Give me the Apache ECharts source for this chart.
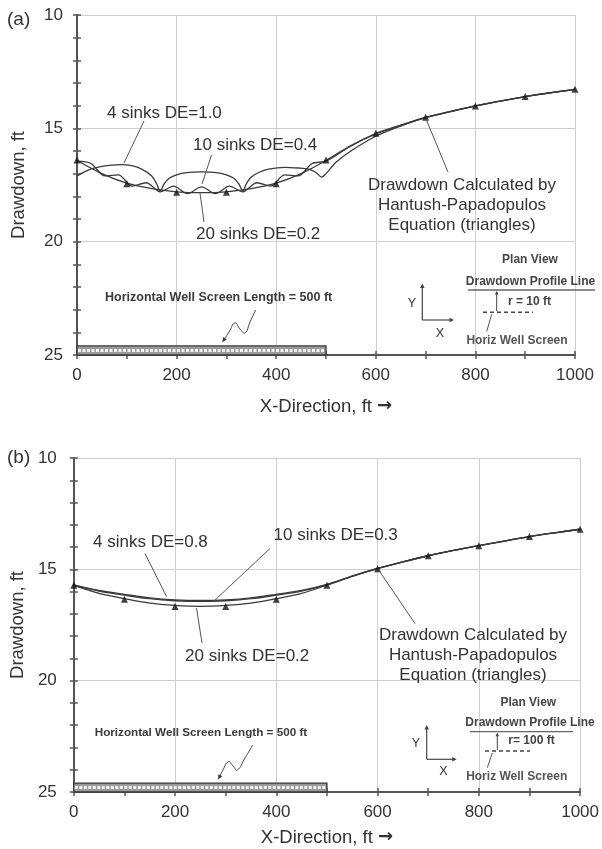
<!DOCTYPE html>
<html><head><meta charset="utf-8">
<script src="https://cdn.jsdelivr.net/npm/echarts@6/dist/echarts.min.js"></script>
<style>html,body{margin:0;padding:0;background:#fff}#c{width:602px;height:849px}</style>
</head><body><div id="c"></div>
<script>
// ---------- data ----------
const hX = [0,100,200,300,400,500,600,700,800,900,1000];
const hantushA = [16.4,17.44,17.82,17.82,17.44,16.4,15.22,14.51,14.01,13.6,13.28];
const hantushB = [15.71,16.34,16.67,16.67,16.34,15.71,14.97,14.39,13.94,13.53,13.2];

const sink4AX = [0,15,30,50,70,90,110,130,150,160,167,175,185,200,220,250,280,300,315,325,333,340,350,365,385,417,445,465,480,491,500,520,550,600,650,700,800,900,1000];
const sink4AY = [17.1,16.92,16.78,16.68,16.62,16.6,16.65,16.8,17.1,17.45,17.76,17.45,17.2,17.05,16.95,16.92,16.95,17.05,17.2,17.45,17.76,17.45,17.15,16.95,16.8,16.72,16.75,16.8,16.95,17.15,17.0,16.5,16.0,15.35,14.9,14.53,14.02,13.6,13.28];

const sink10AX = [0,28,56,83,111,139,167,194,222,250,278,306,333,361,389,417,444,472,500,550,600,650,700,800,900,1000];
const sink10AY = [16.45,16.55,17.1,17.05,17.55,17.4,17.8,17.55,17.88,17.58,17.88,17.55,17.8,17.4,17.55,17.05,17.1,16.55,16.45,15.78,15.25,14.87,14.52,14.01,13.6,13.28];

const sink20AX = [0,50,100,150,200,250,300,350,400,450,500,550,600,650,700,750,800,850,900,950,1000];
const sink20AY = [16.42,17.0,17.42,17.66,17.8,17.84,17.8,17.66,17.42,17.0,16.42,15.76,15.23,14.86,14.52,14.26,14.01,13.8,13.6,13.43,13.28];

const sinkBX = [0,50,100,150,200,250,300,350,400,450,500,550,600,650,700,750,800,850,900,950,1000];
const sink4BY = [15.7,15.95,16.12,16.28,16.37,16.4,16.37,16.28,16.12,15.95,15.68,15.3,14.96,14.66,14.39,14.15,13.94,13.73,13.53,13.36,13.2];
const sink10BY = [15.71,15.98,16.16,16.32,16.41,16.44,16.41,16.32,16.16,15.98,15.69,15.31,14.96,14.66,14.39,14.15,13.94,13.73,13.53,13.36,13.2];
const sink20BY = [15.72,16.08,16.32,16.52,16.62,16.66,16.62,16.52,16.32,16.08,15.71,15.32,14.97,14.67,14.39,14.15,13.94,13.73,13.53,13.36,13.2];

const screenSpan = [0,500];      // horizontal well screen, ft
const screenTop = 24.6;

const yTickLabels = [10,15,20,25];
const xTickLabels = [0,200,400,600,800,1000];

// ---------- chart ----------
const FONT = "'Liberation Sans', Arial, sans-serif";
const TXT = '#333';
const zip = (xs, ys) => xs.map((x,i)=>[x, ys[i]]);
const AX = '#555';

function xAxisCfg(gi, gap){
  return {
    type:'value', gridIndex:gi, min:xTickLabels[0], max:xTickLabels[xTickLabels.length-1], interval:200,
    name:'{a|X-Direction, ft }{b|\u2192}', nameLocation:'middle', nameGap:gap,
    nameTextStyle:{rich:{a:{fontFamily:FONT, fontSize:18.5, color:TXT}, b:{fontFamily:"'DejaVu Sans', sans-serif", fontSize:18, fontWeight:'bold', color:TXT}}},
    axisLine:{onZero:false, lineStyle:{color:AX, width:2}},
    axisTick:{show:true, length:4, lineStyle:{color:AX, width:1.5}},
    minorTick:{show:true, splitNumber:2, length:4, lineStyle:{color:AX, width:1.5}},
    axisLabel:{fontFamily:FONT, fontSize:17, color:TXT, margin:12, formatter:v=>String(v)},
    splitLine:{show:true, lineStyle:{color:'#cfcfcf', width:1}}
  };
}
function xAxisInner(gi){
  return {type:'value', gridIndex:gi, min:xTickLabels[0], max:xTickLabels[xTickLabels.length-1], interval:200, position:'bottom',
    axisLine:{show:false}, axisLabel:{show:false}, splitLine:{show:false},
    axisTick:{show:true, inside:true, length:4, lineStyle:{color:AX, width:1.5}},
    minorTick:{show:true, splitNumber:2, length:4, lineStyle:{color:AX, width:1.5}}};
}
function yAxisCfg(gi, gap, margin){
  return {
    type:'value', gridIndex:gi, inverse:true, min:yTickLabels[0], max:yTickLabels[yTickLabels.length-1], interval:5,
    name:'Drawdown, ft', nameLocation:'middle', nameGap:gap,
    nameTextStyle:{fontFamily:FONT, fontSize:18.5, color:TXT},
    axisLine:{onZero:false, lineStyle:{color:AX, width:2}},
    axisTick:{show:true, length:4, lineStyle:{color:AX, width:1.5}},
    minorTick:{show:true, splitNumber:5, length:4, lineStyle:{color:AX, width:1.5}},
    axisLabel:{fontFamily:FONT, fontSize:17, color:TXT, margin:margin},
    splitLine:{show:true, lineStyle:{color:'#cfcfcf', width:1}}
  };
}
function yAxisInner(gi){
  return {type:'value', gridIndex:gi, inverse:true, min:yTickLabels[0], max:yTickLabels[yTickLabels.length-1], interval:5, position:'left',
    axisLine:{show:false}, axisLabel:{show:false}, splitLine:{show:false},
    axisTick:{show:true, inside:true, length:4, lineStyle:{color:AX, width:1.5}},
    minorTick:{show:true, splitNumber:5, length:4, lineStyle:{color:AX, width:1.5}}};
}
function lineSeries(gi, data, w){
  return {type:'line', xAxisIndex:gi, yAxisIndex:gi, data:data, showSymbol:false, symbol:'none',
    smooth:0.3, lineStyle:{color:'#3a3a3a', width:w||1.3}, silent:true, z:3};
}
function triSeries(gi, data){
  return {type:'scatter', xAxisIndex:gi, yAxisIndex:gi, data:data, symbol:'triangle', symbolSize:7,
    itemStyle:{color:'#111'}, silent:true, z:5};
}
function screenSeries(gi){
  return {type:'custom', xAxisIndex:gi, yAxisIndex:gi, data:[[screenSpan[0], screenSpan[1], screenTop]], silent:true, z:2,
    renderItem:function(params, api){
      const p0 = api.coord([api.value(0), api.value(2)]);
      const p1 = api.coord([api.value(1), yTickLabels[yTickLabels.length-1]]);
      const x=p0[0], y=p0[1], w=p1[0]-p0[0], h=p1[1]-p0[1];
      return {type:'group', children:[
        {type:'rect', shape:{x:x, y:y, width:w, height:h}, style:{fill:'#9a9a9a', stroke:'#3a3a3a', lineWidth:1.3}},
        {type:'line', shape:{x1:x+1, y1:y+h/2, x2:x+w-1, y2:y+h/2}, style:{stroke:'#f2f2f2', lineWidth:3, lineDash:[3,1.5]}}
      ]};
    }};
}

const chart = echarts.init(document.getElementById('c'), null, {renderer:'canvas'});

function T(text, x, y, size, opts){
  opts = opts || {};
  return {type:'text', z:20, style:{text:text, x:x, y:y, fontFamily:FONT, fontSize:size, fill:opts.fill||TXT,
    fontWeight:opts.bold?'bold':'normal', align:opts.align||'left', verticalAlign:'middle', lineHeight:opts.lh||size}};
}
function L(x1,y1,x2,y2,opts){
  opts = opts || {};
  return {type:'line', z:20, shape:{x1:x1,y1:y1,x2:x2,y2:y2}, style:{stroke:opts.stroke||'#555', lineWidth:opts.w||1, lineDash:opts.dash||null}};
}
function arrowHead(x, y, angle, size, color){
  const a1 = angle + Math.PI*0.85, a2 = angle - Math.PI*0.85;
  return {type:'polygon', z:21, shape:{points:[[x,y],[x+size*Math.cos(a1), y+size*Math.sin(a1)],[x+size*Math.cos(a2), y+size*Math.sin(a2)]]}, style:{fill:color||'#444'}};
}
function squiggle(pts){
  const n = pts.length;
  const a = Math.atan2(pts[n-1][1]-pts[n-2][1], pts[n-1][0]-pts[n-2][0]);
  return [
    {type:'polyline', z:20, shape:{points:pts, smooth:0.5}, style:{stroke:'#444', lineWidth:1, fill:null}},
    arrowHead(pts[n-1][0], pts[n-1][1], a, 5, '#333')
  ];
}
function inset(o){
  const els = [];
  els.push(T('Plan View', o.pvx, o.pvy, 12, {bold:true, align:'center', fill:'#444'}));
  els.push(T('Drawdown Profile Line', o.dpx, o.dpy, 12, {bold:true, align:'center', fill:'#444'}));
  els.push(L(o.l1[0], o.ly, o.l1[1], o.ly, {stroke:'#666', w:1.3}));
  els.push(T(o.rtxt, o.rx, o.ry, 12, {bold:true, align:'center', fill:'#444'}));
  els.push(L(o.vx, o.ly+2, o.vx, o.dy-1, {stroke:'#444', w:1}));
  els.push(arrowHead(o.vx, o.ly+1, -Math.PI/2, 4, '#444'));
  els.push(L(o.d1[0], o.dy, o.d1[1], o.dy, {stroke:'#444', w:1.5, dash:[4,3]}));
  els.push(L(o.vx-5, o.dy+2, o.vx-10, o.hwy-9, {stroke:'#555', w:1}));
  els.push(T('Horiz Well Screen', o.hwx, o.hwy, 12, {bold:true, align:'center', fill:'#555'}));
  els.push(L(o.ax, o.ay, o.ax, o.ayTop+2, {stroke:'#444', w:1.2}));
  els.push(arrowHead(o.ax, o.ayTop, -Math.PI/2, 5, '#444'));
  els.push(L(o.ax, o.ay, o.axRight-2, o.ay, {stroke:'#444', w:1.2}));
  els.push(arrowHead(o.axRight, o.ay, 0, 5, '#444'));
  els.push(T('Y', o.yx, o.yy, 12.5, {align:'center', fill:'#333'}));
  els.push(T('X', o.xx, o.xy, 12.5, {align:'center', fill:'#333'}));
  return els;
}

const graphics = [].concat(
  [T('(a)', 7, 20, 19), T('(b)', 7, 458, 19)],
  // ---- panel (a) annotations
  [T('4 sinks DE=1.0', 107, 113, 17), L(144,121,124,163),
   T('10 sinks DE=0.4', 193, 145, 17), L(211.5,155,202,184),
   T('20 sinks DE=0.2', 196, 234, 17), L(204,222,200,193),
   T('Drawdown Calculated by\nHantush-Papadopulos\nEquation (triangles)', 462, 205, 17, {align:'center', lh:20}), L(448,172,426,119),
   T('Horizontal Well Screen Length = 500 ft', 105, 298, 12.5, {bold:true, fill:'#3a3a3a'})],
  squiggle([[255.7,310],[250,322],[245,333],[240,329],[235,323],[229,332],[222.5,342]]),
  inset({pvx:530, pvy:260, dpx:530.5, dpy:281.5, ly:290, l1:[468,595], rtxt:'r = 10 ft', rx:529.5, ry:301.5,
         vx:496.7, dy:312.3, d1:[483,533], hwx:517, hwy:340.5,
         ax:422.3, ay:320, ayTop:283.5, axRight:454, yx:412, yy:304, xx:440, xy:334}),
  // ---- panel (b) annotations
  [T('4 sinks DE=0.8', 93, 542.3, 17), L(145,553.5,166.5,596.5),
   T('10 sinks DE=0.3', 273.5, 535, 17), L(270,548.5,213.5,601.5),
   T('20 sinks DE=0.2', 185, 656.7, 17), L(202,643,196.5,608),
   T('Drawdown Calculated by\nHantush-Papadopulos\nEquation (triangles)', 473, 655, 17, {align:'center', lh:20}), L(415,623.5,380,572),
   T('Horizontal Well Screen Length = 500 ft', 94.7, 732.3, 11.7, {bold:true, fill:'#3a3a3a'})],
  squiggle([[252.7,745],[245,758],[237.3,770],[233,766],[228.3,761.7],[223,770],[218.3,779.3]]),
  inset({pvx:528.3, pvy:702.7, dpx:530, dpy:722.7, ly:731.7, l1:[470,573], rtxt:'r= 100 ft', rx:531.5, ry:740.7,
         vx:497.3, dy:751, d1:[485,530], hwx:516.7, hwy:776.7,
         ax:426.7, ay:759.3, ayTop:725, axRight:456.7, yx:416, yy:743.3, xx:443.3, xy:771.7})
);

chart.setOption({
  animation:false,
  backgroundColor:'#fff',
  grid:[
    {left:77, top:15, width:498, height:340},
    {left:71, top:458, width:511, height:334}
  ],
  xAxis:[xAxisCfg(0,42), xAxisCfg(1,36), xAxisInner(0), xAxisInner(1)],
  yAxis:[yAxisCfg(0,49,14), yAxisCfg(1,45,17), yAxisInner(0), yAxisInner(1)],
  series:[
    screenSeries(0),
    lineSeries(0, zip(sink4AX, sink4AY)),
    lineSeries(0, zip(sink10AX, sink10AY)),
    lineSeries(0, zip(sink20AX, sink20AY)),
    triSeries(0, zip(hX, hantushA)),
    screenSeries(1),
    lineSeries(1, zip(sinkBX, sink4BY)),
    lineSeries(1, zip(sinkBX, sink10BY)),
    lineSeries(1, zip(sinkBX, sink20BY)),
    triSeries(1, zip(hX, hantushB))
  ],
  graphic:graphics
});
</script>
</body></html>
